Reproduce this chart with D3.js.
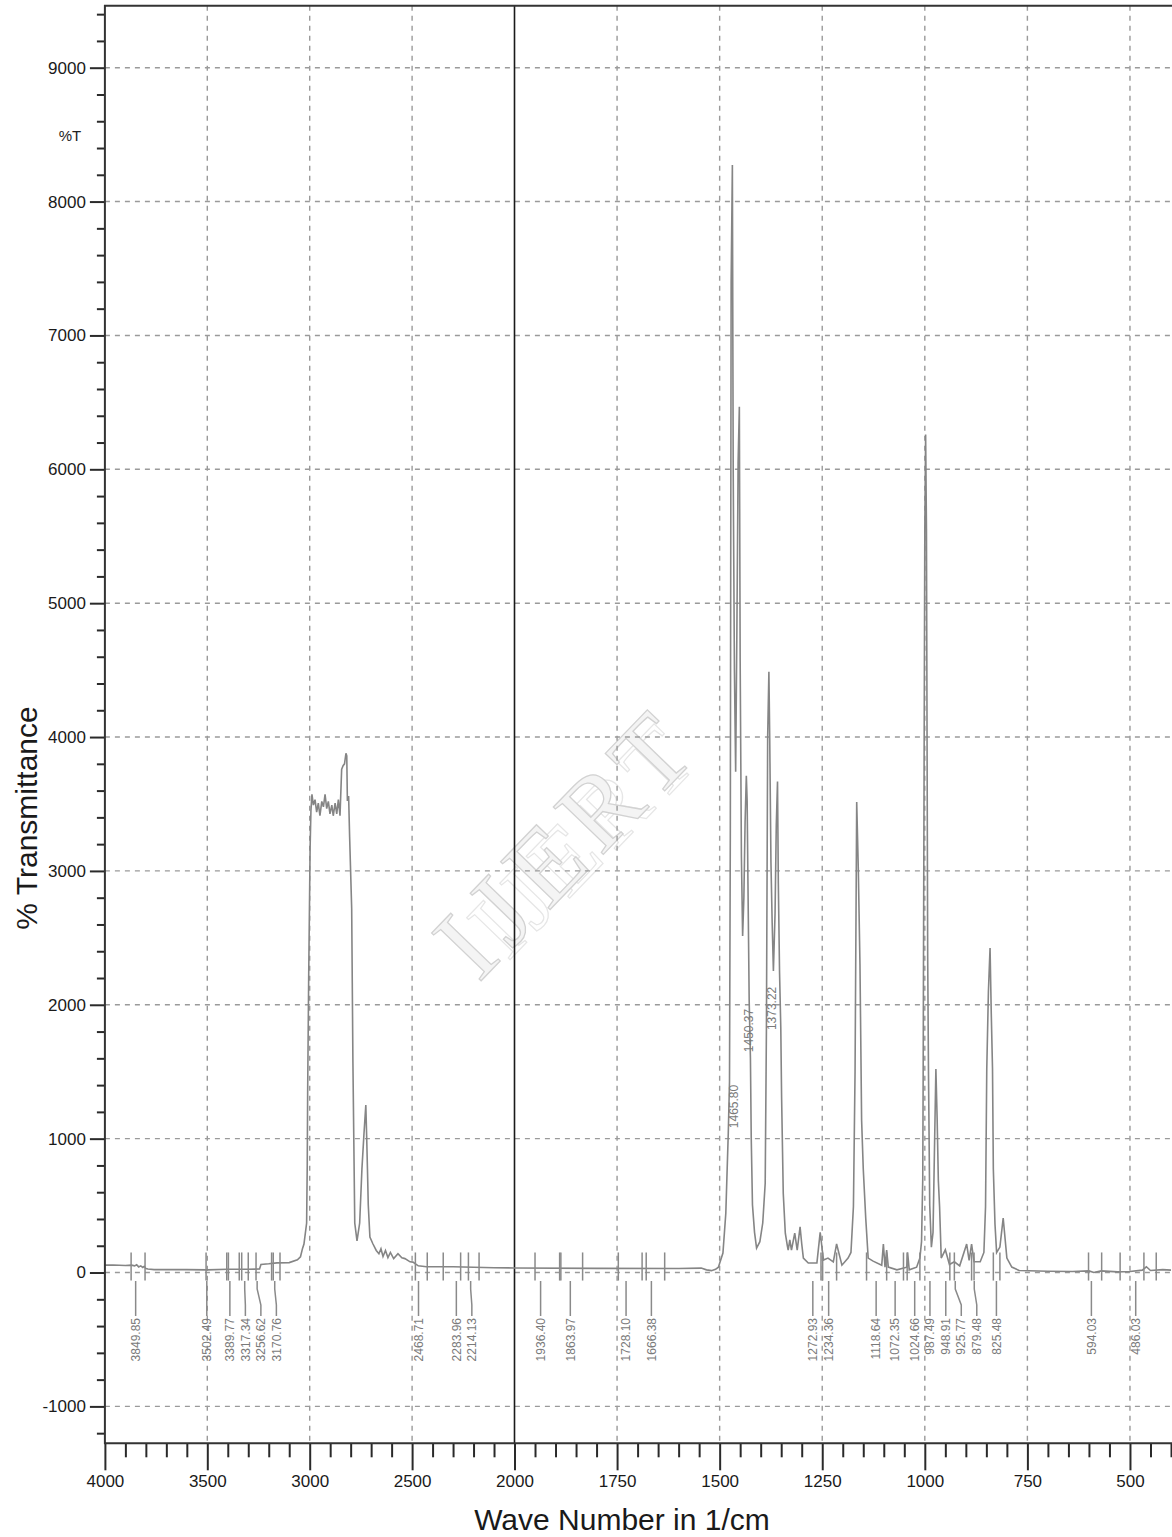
<!DOCTYPE html>
<html>
<head>
<meta charset="utf-8">
<script src="https://cdn.jsdelivr.net/npm/d3@7"></script>
<style>
  body { margin: 0; background: #fff; }
  svg { display: block; }
  text { font-family: "Liberation Sans", Arial, sans-serif; }
</style>
</head>
<body>
<div id="vizcontainer"></div>
<script>
const
  width = 1172,
  height = 1537
  ;

// spectrum: [wave number, value]
const spectrum = [
  [4000, 55], [3960, 56], [3900, 52], [3870, 55], [3855, 50], [3845, 58], [3835, 42], [3825, 50],
  [3815, 38], [3808, 46], [3800, 30], [3790, 26], [3760, 22], [3700, 22], [3600, 22], [3500, 20],
  [3400, 24], [3300, 25], [3245, 26], [3238, 60], [3200, 65], [3160, 72], [3100, 74], [3060, 95],
  [3045, 118], [3035, 180], [3028, 213], [3015, 370], [3012, 800], [3010, 1345], [3005, 2200],
  [2998, 3172], [2994, 3450], [2989, 3572],
  [2982, 3492], [2974, 3532], [2966, 3439], [2958, 3506], [2950, 3412], [2941, 3519], [2933, 3479],
  [2925, 3572], [2917, 3466], [2909, 3519], [2901, 3426], [2892, 3492], [2885, 3412], [2876, 3506],
  [2868, 3426], [2860, 3532], [2852, 3412],
  [2844, 3759], [2837, 3786], [2830, 3800], [2823, 3879], [2819, 3860], [2816, 3523], [2810, 3560],
  [2805, 3253], [2795, 2718], [2789, 1572], [2780, 370], [2769, 237], [2756, 370], [2745, 773],
  [2735, 1037], [2726, 1251], [2722, 1026], [2718, 773], [2714, 504], [2706, 265], [2691, 213],
  [2675, 165], [2662, 140], [2652, 178], [2642, 120], [2630, 165], [2618, 112], [2606, 150],
  [2590, 104], [2569, 140], [2550, 110], [2535, 104], [2510, 80], [2496, 78], [2470, 50], [2430, 43],
  [2300, 43], [2200, 40], [2100, 36], [2000, 34], [1800, 31], [1600, 30], [1545, 33], [1532, 20],
  [1520, 14], [1510, 24], [1503, 40],
  [1500, 70], [1492, 145], [1485, 443], [1479, 1040], [1476, 1423], [1474, 3300], [1472, 7400],
  [1469, 8273], [1467, 6000], [1464, 4500], [1461, 3740], [1458, 4800], [1455, 6057], [1452, 6467],
  [1450, 4567], [1447, 3111], [1444, 2514], [1441, 2800], [1438, 3367], [1435, 3710], [1433, 3524],
  [1431, 2900], [1428, 2024], [1425, 1602], [1423, 1000], [1420, 504], [1415, 300], [1410, 183],
  [1402, 230], [1395, 370], [1389, 667], [1386, 1826], [1383, 4000], [1380, 4488], [1378, 3996],
  [1375, 3066], [1372, 2611], [1369, 2252], [1365, 2681], [1362, 3339], [1359, 3668], [1357, 2910],
  [1354, 2237], [1351, 1826], [1349, 1303], [1345, 592], [1340, 294], [1335, 200], [1333, 168],
  [1329, 243], [1325, 168], [1317, 294], [1311, 168], [1304, 342], [1300, 215], [1296, 108],
  [1284, 71], [1263, 71], [1255, 300], [1247, 93], [1236, 108], [1223, 80], [1215, 213], [1202, 55],
  [1187, 108], [1180, 150], [1174, 491], [1170, 1500], [1166, 3515], [1162, 3000], [1158, 2293],
  [1154, 1135], [1150, 773], [1144, 407], [1138, 108], [1126, 85], [1105, 55], [1101, 213],
  [1097, 40], [1093, 168], [1089, 41], [1068, 20], [1044, 40], [1042, 150], [1038, 20], [1020, 40],
  [1012, 108], [1008, 231], [1005, 700], [1004, 1478], [1000, 5554], [998, 6260], [996, 5554],
  [993, 2357], [991, 1478], [988, 500], [984, 190], [980, 300], [976, 1000], [973, 1520],
  [970, 1157], [967, 685], [964, 491], [960, 108], [950, 170], [940, 60], [928, 80], [915, 50],
  [898, 213], [892, 90], [886, 213], [880, 80], [865, 80], [856, 150], [852, 491], [849, 1520],
  [845, 2100], [841, 2424], [838, 1931], [835, 1520], [833, 773], [829, 362], [825, 149],
  [817, 190], [809, 407], [800, 108], [788, 41], [770, 15], [700, 10], [640, 8], [600, 12],
  [588, 0], [570, 12], [530, 5], [500, 8], [470, 18], [460, 43], [450, 15], [420, 22], [400, 18]
];

// picked peaks labelled under the baseline
const peakWn = [3849.85, 3502.49, 3389.77, 3317.34, 3256.62, 3170.76, 2468.71, 2283.96, 2214.13,
  1936.40, 1863.97, 1728.10, 1666.38, 1272.93, 1234.36, 1118.64, 1072.35, 1024.66, 987.49,
  948.91, 925.77, 879.48, 825.48, 594.03, 486.03];
const peakText = ['3849.85', '3502.49', '3389.77', '3317.34', '3256.62', '3170.76', '2468.71',
  '2283.96', '2214.13', '1936.40', '1863.97', '1728.10', '1666.38', '1272.93', '1234.36',
  '1118.64', '1072.35', '1024.66', '987.49', '948.91', '925.77', '879.48', '825.48', '594.03',
  '486.03'];

// peaks labelled inside the plot, with the %T level where the label starts
const innerWn = [1465.80, 1450.37, 1373.22];
const innerText = ['1465.80', '1450.37', '1373.22'];
const innerLevel = [1078, 1646, 1811];

// short peak marks crossing the baseline
const markWn = [3872, 3804, 3506, 3405, 3397, 3344, 3332, 3300, 3262, 3186, 3178, 3145,
  2484, 2426, 2348, 2263, 2225, 2173, 1950, 1890, 1887, 1834, 1747, 1689, 1679, 1634,
  1253, 1249, 1215, 1142, 1093, 1052, 1043, 1012, 939, 928, 886, 880, 833, 817,
  601, 569, 524, 466, 436];

const xTickLabels = [4000, 3500, 3000, 2500, 2000, 1750, 1500, 1250, 1000, 750, 500];
const yTickLabels = [-1000, 0, 1000, 2000, 3000, 4000, 5000, 6000, 7000, 8000, 9000];

const plotLeft = 104.9, plotRight = 1172, plotTop = 5.7, plotBottom = 1443.3;

let x = d3.scaleLinear()
  .domain([4000, 2000, 400])
  .range([plotLeft, 514.5, 1171]);

let y = d3.scaleLinear()
  .domain([-1000, 9000])
  .range([1406.4, 67.7]);

let svg = d3.select('#vizcontainer')
  .append('svg')
  .attr('width', width)
  .attr('height', height);

// watermark
let wm = svg.append('g').attr('transform', 'translate(568,842) rotate(-46)');
wm.append('text')
  .attr('x', 14).attr('y', 40)
  .attr('text-anchor', 'middle')
  .style('font-family', '"Liberation Serif", "DejaVu Serif", serif')
  .attr('font-size', 92)
  .attr('letter-spacing', 10)
  .attr('fill', 'none')
  .attr('stroke', '#e6e6e6')
  .attr('stroke-width', 1.2)
  .text('IJERT');
wm.append('text')
  .attr('text-anchor', 'middle')
  .attr('y', 34)
  .style('font-family', '"Liberation Serif", "DejaVu Serif", serif')
  .attr('font-size', 105)
  .attr('letter-spacing', 12)
  .attr('fill', '#f4f4f4')
  .attr('stroke', '#d2d2d2')
  .attr('stroke-width', 1.3)
  .text('IJERT');

// grid
let grid = svg.append('g')
  .attr('stroke', '#9a9a9a')
  .attr('stroke-width', 1.4)
  .attr('stroke-dasharray', '5,5');
grid.selectAll('line.h')
  .data(yTickLabels)
  .join('line')
  .attr('class', 'h')
  .attr('x1', plotLeft).attr('x2', plotRight)
  .attr('y1', d => y(d)).attr('y2', d => y(d));
grid.selectAll('line.v')
  .data(xTickLabels.filter(d => d !== 2000 && d !== 4000))
  .join('line')
  .attr('class', 'v')
  .attr('x1', d => x(d)).attr('x2', d => x(d))
  .attr('y1', plotTop).attr('y2', plotBottom);

svg.append('line')
  .attr('x1', x(2000)).attr('x2', x(2000))
  .attr('y1', plotTop).attr('y2', plotBottom)
  .attr('stroke', '#1a1a1a')
  .attr('stroke-width', 1.6);

// spectrum
let line = d3.line()
  .x(d => x(d[0]))
  .y(d => y(d[1]));

svg.append('path')
  .datum(spectrum)
  .attr('d', line)
  .attr('fill', 'none')
  .attr('stroke', '#858585')
  .attr('stroke-width', 1.6)
  .attr('stroke-linejoin', 'miter');

// peak marks
svg.append('g')
  .selectAll('line')
  .data(markWn)
  .join('line')
  .attr('x1', d => x(d)).attr('x2', d => x(d))
  .attr('y1', y(150)).attr('y2', y(-60))
  .attr('stroke', '#8a8a8a')
  .attr('stroke-width', 1.5);

// spread labels so they do not overlap
function spread(xs, gap) {
  let order = xs.map((v, i) => i).sort((a, b) => xs[a] - xs[b]);
  let out = xs.slice();
  let last = -Infinity;
  order.forEach(i => {
    out[i] = Math.max(xs[i], last + gap);
    last = out[i];
  });
  return out;
}

let peakX = peakWn.map(d => x(d));
let peakLX = spread(peakX, 15.5);
const leadTop = 1281, labelTop = 1318;

svg.append('g')
  .selectAll('path')
  .data(peakWn)
  .join('path')
  .attr('d', (d, i) => {
    let mx = peakX[i], lx = peakLX[i];
    if (Math.abs(mx - lx) < 0.5) return `M${mx},${leadTop}V${labelTop - 2}`;
    return `M${mx},${leadTop}V${leadTop + 8}L${lx},${leadTop + 24}V${labelTop - 2}`;
  })
  .attr('fill', 'none')
  .attr('stroke', '#8a8a8a')
  .attr('stroke-width', 1.5);

svg.append('g')
  .selectAll('text')
  .data(peakText)
  .join('text')
  .attr('transform', (d, i) => `translate(${peakLX[i]},${labelTop}) rotate(-90)`)
  .attr('text-anchor', 'end')
  .attr('dy', '0.35em')
  .attr('font-size', 12)
  .attr('fill', '#7a7a7a')
  .text(d => d);

let innerLX = spread(innerWn.map(d => x(d)), 15);
svg.append('g')
  .selectAll('text')
  .data(innerText)
  .join('text')
  .attr('transform', (d, i) => `translate(${innerLX[i]},${y(innerLevel[i])}) rotate(-90)`)
  .attr('text-anchor', 'start')
  .attr('dy', '0.35em')
  .attr('font-size', 12)
  .attr('fill', '#7a7a7a')
  .text(d => d);

// axes
const yTicks = d3.range(-1200, 9401, 200);
let gy = svg.append('g')
  .attr('transform', `translate(${plotLeft},0)`)
  .call(d3.axisLeft(y).tickValues(yTicks).tickSize(8)
    .tickFormat(d => d % 1000 === 0 ? d : ''));
gy.select('.domain').remove();
gy.selectAll('.tick line')
  .attr('x2', d => d % 1000 === 0 ? -15 : -8)
  .attr('stroke', '#2a2a2a')
  .attr('stroke-width', 2);
gy.selectAll('.tick text')
  .attr('x', -19)
  .attr('font-size', 17)
  .attr('fill', '#1a1a1a')
  .style('font-family', '"Liberation Sans", Arial, sans-serif');

const xTicks = d3.range(4000, 2000, -100).concat(d3.range(2000, 399, -50));
const isMajor = d => d > 2000 ? d % 500 === 0 : d % 250 === 0;
let gx = svg.append('g')
  .attr('transform', `translate(0,${plotBottom})`)
  .call(d3.axisBottom(x).tickValues(xTicks).tickSize(14)
    .tickFormat(d => xTickLabels.includes(d) ? d : ''));
gx.select('.domain').remove();
gx.selectAll('.tick line')
  .attr('y2', d => isMajor(d) ? 27 : 14)
  .attr('stroke', '#2a2a2a')
  .attr('stroke-width', 2);
gx.selectAll('.tick text')
  .attr('y', 32)
  .attr('font-size', 17)
  .attr('fill', '#1a1a1a')
  .style('font-family', '"Liberation Sans", Arial, sans-serif');

// frame
svg.append('path')
  .attr('d', `M${plotRight},${plotTop}H${plotLeft}V${plotBottom}H${plotRight}`)
  .attr('fill', 'none')
  .attr('stroke', '#333')
  .attr('stroke-width', 2);

// titles
svg.append('text')
  .attr('x', 70).attr('y', 141)
  .attr('text-anchor', 'middle')
  .attr('font-size', 15)
  .attr('fill', '#222')
  .text('%T');

svg.append('text')
  .attr('transform', 'translate(37,818) rotate(-90)')
  .attr('text-anchor', 'middle')
  .attr('font-size', 30)
  .attr('fill', '#1a1a1a')
  .text('% Transmittance');

svg.append('text')
  .attr('x', 622).attr('y', 1530)
  .attr('text-anchor', 'middle')
  .attr('font-size', 30)
  .attr('fill', '#1a1a1a')
  .text('Wave Number in 1/cm');
</script>
</body>
</html>
